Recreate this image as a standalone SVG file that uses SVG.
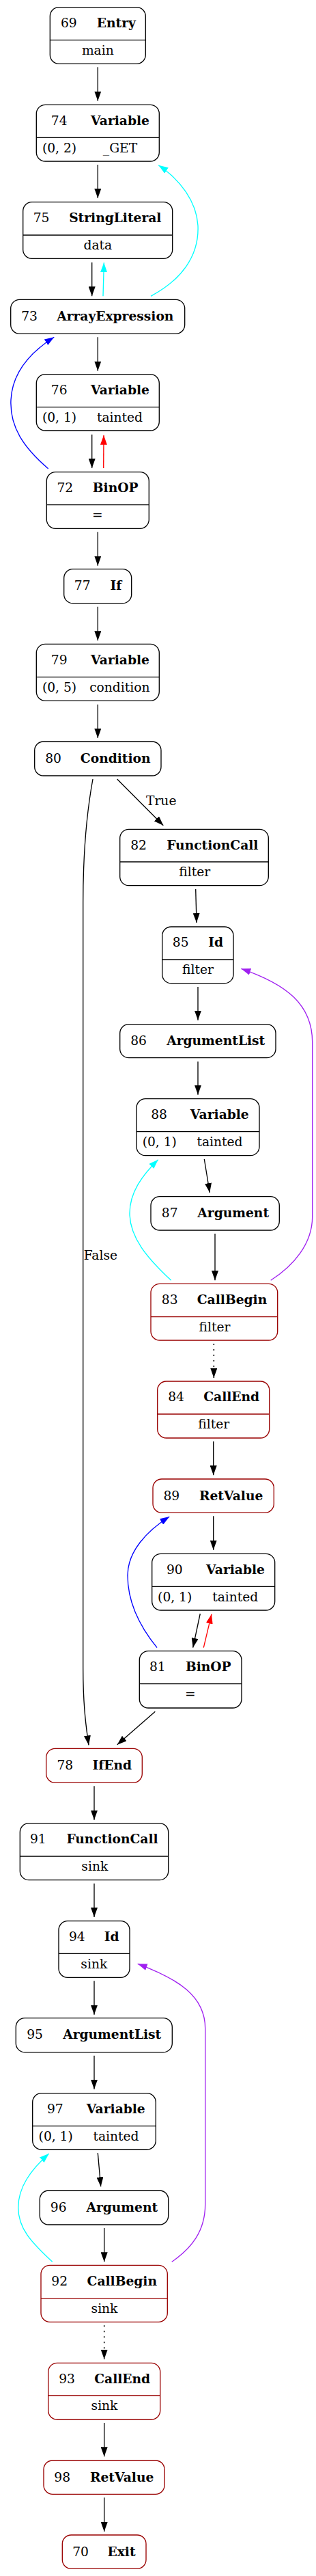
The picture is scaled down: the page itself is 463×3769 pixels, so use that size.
<svg xmlns="http://www.w3.org/2000/svg" width="463" height="3769" viewBox="0 0 463 3769">
<style>
.n rect{fill:#fff;stroke:#000;stroke-width:1.33}
.n line{stroke:#000;stroke-width:1.33}
.r rect,.r line{stroke:#990000}
text{font-family:"DejaVu Serif","Liberation Serif",serif;font-size:18.67px;fill:#000;text-anchor:middle}
.b{font-weight:bold}
.lbl{text-anchor:start}
#edges path{fill:none;stroke-width:1.33}
.k{stroke:#000}
.c{stroke:#00ffff}
.rd{stroke:#ff0000}
.bl{stroke:#0000ff}
.p{stroke:#a020f0}
#edges path.d{stroke-dasharray:2,6;stroke-width:1.6}
</style>
<defs>
<marker id="ak" viewBox="0 0 14 10" refX="14" refY="5" markerWidth="14" markerHeight="10" markerUnits="userSpaceOnUse" orient="auto"><path d="M0,0L14,5L0,10z" fill="#000"/></marker>
<marker id="ac" viewBox="0 0 14 10" refX="14" refY="5" markerWidth="14" markerHeight="10" markerUnits="userSpaceOnUse" orient="auto"><path d="M0,0L14,5L0,10z" fill="#00ffff"/></marker>
<marker id="ar" viewBox="0 0 14 10" refX="14" refY="5" markerWidth="14" markerHeight="10" markerUnits="userSpaceOnUse" orient="auto"><path d="M0,0L14,5L0,10z" fill="#ff0000"/></marker>
<marker id="ab" viewBox="0 0 14 10" refX="14" refY="5" markerWidth="14" markerHeight="10" markerUnits="userSpaceOnUse" orient="auto"><path d="M0,0L14,5L0,10z" fill="#0000ff"/></marker>
<marker id="ap" viewBox="0 0 14 10" refX="14" refY="5" markerWidth="14" markerHeight="10" markerUnits="userSpaceOnUse" orient="auto"><path d="M0,0L14,5L0,10z" fill="#a020f0"/></marker>
</defs>
<rect width="463" height="3769" fill="#fff"/>

<g id="edges">
<path class="k" marker-end="url(#ak)" d="M143.3,98.3L143.3,147.7"/>
<path class="k" marker-end="url(#ak)" d="M143.3,241L143.3,290"/>
<path class="k" marker-end="url(#ak)" d="M134.7,384L134.7,433.3"/>
<path class="c" marker-end="url(#ac)" d="M151,433.3C151.5,415 152,400 152.3,384.3"/>
<path class="c" marker-end="url(#ac)" d="M221,433.3C265,410 292,375 290,330C288,295 264,263 232.3,241.7"/>
<path class="k" marker-end="url(#ak)" d="M143.3,493.3L143.3,542.7"/>
<path class="k" marker-end="url(#ak)" d="M134.7,635.7L134.7,685"/>
<path class="rd" marker-end="url(#ar)" d="M151.7,685L152,636.7"/>
<path class="bl" marker-end="url(#ab)" d="M70.7,685.7C35,655 14,625 16,585C18,545 45,515 79.3,493.3"/>
<path class="k" marker-end="url(#ak)" d="M143.3,778.3L143.3,827.7"/>
<path class="k" marker-end="url(#ak)" d="M143.3,887.7L143.3,937.3"/>
<path class="k" marker-end="url(#ak)" d="M143.3,1030.7L143.3,1080"/>
<path class="k" marker-end="url(#ak)" d="M171.7,1140L239.3,1207.7"/>
<text class="lbl" x="214" y="1178.3">True</text>
<path class="k" marker-end="url(#ak)" d="M136,1140C125,1200 121.7,1260 121.7,1320L121.7,2440C121.7,2490 125,2520 130,2553.3"/>
<text class="lbl" x="122.7" y="1843.3">False</text>
<path class="k" marker-end="url(#ak)" d="M286.7,1301L288,1350"/>
<path class="k" marker-end="url(#ak)" d="M290,1444L290,1492.7"/>
<path class="k" marker-end="url(#ak)" d="M290,1553.3L290,1601.7"/>
<path class="k" marker-end="url(#ak)" d="M299.3,1696L307.3,1745"/>
<path class="k" marker-end="url(#ak)" d="M315,1805L315,1873.3"/>
<path class="c" marker-end="url(#ac)" d="M250.7,1873.3C215,1840 190,1810 190,1775C190,1745 208,1720 231.7,1696.7"/>
<path class="p" marker-end="url(#ap)" d="M396.7,1873.3C430,1852 457.7,1820 457.7,1780L457.7,1525C457.7,1470 420,1440 353.3,1417.3"/>
<path class="k d" marker-end="url(#ak)" d="M313.3,1966L313.3,2016"/>
<path class="k" marker-end="url(#ak)" d="M312.7,2109L312.7,2158.3"/>
<path class="k" marker-end="url(#ak)" d="M312.7,2218.3L312.7,2267.7"/>
<path class="k" marker-end="url(#ak)" d="M293.3,2361L282.7,2410.7"/>
<path class="rd" marker-end="url(#ar)" d="M298.3,2410.7L310,2361.7"/>
<path class="bl" marker-end="url(#ab)" d="M230,2410.7C205,2380 187,2345 187,2305C187,2270 215,2240 248.3,2219"/>
<path class="k" marker-end="url(#ak)" d="M227.3,2504.3L171.7,2552.7"/>
<path class="k" marker-end="url(#ak)" d="M138,2613.3L138,2662.7"/>
<path class="k" marker-end="url(#ak)" d="M138,2755.7L138,2805"/>
<path class="k" marker-end="url(#ak)" d="M138,2898.3L138,2947.7"/>
<path class="k" marker-end="url(#ak)" d="M138,3007.7L138,3056.7"/>
<path class="k" marker-end="url(#ak)" d="M143.3,3150L147.7,3199.3"/>
<path class="k" marker-end="url(#ak)" d="M152.7,3260L152.7,3309.3"/>
<path class="c" marker-end="url(#ac)" d="M76.7,3309.3C45,3280 26.7,3260 26.7,3230C26.7,3200 45,3175 71.7,3151"/>
<path class="p" marker-end="url(#ap)" d="M251.7,3309.3C280,3290 300.7,3265 300.7,3225L300.7,2968C300.7,2920 260,2895 201.7,2873.3"/>
<path class="k d" marker-end="url(#ak)" d="M152.7,3402.3L152.7,3451.7"/>
<path class="k" marker-end="url(#ak)" d="M152.7,3545L152.7,3594.3"/>
<path class="k" marker-end="url(#ak)" d="M152.7,3654.3L152.7,3704"/>
</g>

<g id="n69" class="n"><rect x="73.3" y="10.7" width="140" height="82.6" rx="13"/><line x1="73.3" y1="58.7" x2="213.3" y2="58.7"/><text x="100.8" y="40">69</text><text class="b" x="170.3" y="40">Entry</text><text x="143.3" y="80">main</text></g>
<g id="n74" class="n"><rect x="53.3" y="153.3" width="180" height="82.7" rx="13"/><line x1="53.3" y1="201.3" x2="233.3" y2="201.3"/><text x="86.7" y="182.6">74</text><text class="b" x="176" y="182.6">Variable</text><text x="87" y="222.6">(0, 2)</text><text x="176" y="222.6">_GET</text></g>
<g id="n75" class="n"><rect x="33.7" y="295.7" width="219" height="82.6" rx="13"/><line x1="33.7" y1="344" x2="252.7" y2="344"/><text x="60.5" y="325">75</text><text class="b" x="168.8" y="325">StringLiteral</text><text x="143.3" y="365.3">data</text></g>
<g id="n73" class="n"><rect x="15.7" y="438.3" width="255" height="50" rx="13"/><text x="43" y="469">73</text><text class="b" x="168.8" y="469">ArrayExpression</text></g>
<g id="n76" class="n"><rect x="53.3" y="547.7" width="180" height="82.3" rx="13"/><line x1="53.3" y1="595.7" x2="233.3" y2="595.7"/><text x="86.7" y="577">76</text><text class="b" x="176" y="577">Variable</text><text x="87" y="617">(0, 1)</text><text x="175.5" y="617">tainted</text></g>
<g id="n72" class="n"><rect x="68.3" y="690.7" width="150" height="82.6" rx="13"/><line x1="68.3" y1="738.7" x2="218.3" y2="738.7"/><text x="95.3" y="720">72</text><text class="b" x="169.2" y="720">BinOP</text><text x="142.7" y="760">=</text></g>
<g id="n77" class="n"><rect x="93.7" y="832.7" width="99" height="50" rx="13"/><text x="120.7" y="863.4">77</text><text class="b" x="170" y="863.4">If</text></g>
<g id="n79" class="n"><rect x="53.3" y="942.3" width="180" height="83" rx="13"/><line x1="53.3" y1="990.7" x2="233.3" y2="990.7"/><text x="86.7" y="971.6">79</text><text class="b" x="176" y="971.6">Variable</text><text x="87" y="1012">(0, 5)</text><text x="175.3" y="1012">condition</text></g>
<g id="n80" class="n"><rect x="50.7" y="1085" width="185.3" height="50" rx="13"/><text x="78" y="1115.7">80</text><text class="b" x="169.2" y="1115.7">Condition</text></g>
<g id="n82" class="n"><rect x="175.7" y="1213.3" width="217.6" height="82.4" rx="13"/><line x1="175.7" y1="1261" x2="393.3" y2="1261"/><text x="203" y="1242.6">82</text><text class="b" x="311.3" y="1242.6">FunctionCall</text><text x="285.3" y="1282.3">filter</text></g>
<g id="n85" class="n"><rect x="237.7" y="1356" width="104.3" height="82.7" rx="13"/><line x1="237.7" y1="1404" x2="342" y2="1404"/><text x="264.7" y="1385.3">85</text><text class="b" x="316.2" y="1385.3">Id</text><text x="290" y="1425.3">filter</text></g>
<g id="n86" class="n"><rect x="175.7" y="1498.7" width="228.3" height="49" rx="13"/><text x="203" y="1529.4">86</text><text class="b" x="316.2" y="1529.4">ArgumentList</text></g>
<g id="n88" class="n"><rect x="200" y="1607.7" width="180" height="83" rx="13"/><line x1="200" y1="1655.7" x2="380" y2="1655.7"/><text x="233" y="1637">88</text><text class="b" x="321.8" y="1637">Variable</text><text x="233.8" y="1677">(0, 1)</text><text x="322" y="1677">tainted</text></g>
<g id="n87" class="n"><rect x="221" y="1750.7" width="188.3" height="49.3" rx="13"/><text x="248.7" y="1781.4">87</text><text class="b" x="341.7" y="1781.4">Argument</text></g>
<g id="n83" class="n r"><rect x="221" y="1878.3" width="185.7" height="82.7" rx="13"/><line x1="221" y1="1926.7" x2="406.7" y2="1926.7"/><text x="248.7" y="1907.6">83</text><text class="b" x="340" y="1907.6">CallBegin</text><text x="314.5" y="1948">filter</text></g>
<g id="n84" class="n r"><rect x="230.7" y="2021" width="164" height="83" rx="13"/><line x1="230.7" y1="2069" x2="394.7" y2="2069"/><text x="258" y="2050.3">84</text><text class="b" x="339.2" y="2050.3">CallEnd</text><text x="313.3" y="2090.3">filter</text></g>
<g id="n89" class="n r"><rect x="224" y="2164" width="177.3" height="49.3" rx="13"/><text x="251.3" y="2194.7">89</text><text class="b" x="338.7" y="2194.7">RetValue</text></g>
<g id="n90" class="n"><rect x="222.7" y="2273.3" width="180" height="82.7" rx="13"/><line x1="222.7" y1="2321.3" x2="402.7" y2="2321.3"/><text x="255.8" y="2302.6">90</text><text class="b" x="345" y="2302.6">Variable</text><text x="256.2" y="2342.6">(0, 1)</text><text x="344.7" y="2342.6">tainted</text></g>
<g id="n81" class="n"><rect x="204.3" y="2415.7" width="149.7" height="83.3" rx="13"/><line x1="204.3" y1="2463.7" x2="354" y2="2463.7"/><text x="230.8" y="2445">81</text><text class="b" x="305.3" y="2445">BinOP</text><text x="278.7" y="2485">=</text></g>
<g id="n78" class="n r"><rect x="67.7" y="2558.3" width="140.6" height="50" rx="13"/><text x="95.3" y="2589">78</text><text class="b" x="164.3" y="2589">IfEnd</text></g>
<g id="n91" class="n"><rect x="29.3" y="2667.7" width="217.4" height="83" rx="13"/><line x1="29.3" y1="2716" x2="246.7" y2="2716"/><text x="55.8" y="2697">91</text><text class="b" x="164.5" y="2697">FunctionCall</text><text x="138.8" y="2737.3">sink</text></g>
<g id="n94" class="n"><rect x="86" y="2810.7" width="104" height="82.6" rx="13"/><line x1="86" y1="2858.3" x2="190" y2="2858.3"/><text x="112.8" y="2840">94</text><text class="b" x="163.7" y="2840">Id</text><text x="137.8" y="2879.6">sink</text></g>
<g id="n95" class="n"><rect x="23.3" y="2952.7" width="229" height="50" rx="13"/><text x="51" y="2983.4">95</text><text class="b" x="164.2" y="2983.4">ArgumentList</text></g>
<g id="n97" class="n"><rect x="47.7" y="3062.7" width="180.6" height="82.3" rx="13"/><line x1="47.7" y1="3110.7" x2="228.3" y2="3110.7"/><text x="80.8" y="3092">97</text><text class="b" x="169.8" y="3092">Variable</text><text x="81.7" y="3132">(0, 1)</text><text x="170" y="3132">tainted</text></g>
<g id="n96" class="n"><rect x="58.3" y="3205" width="188.4" height="50" rx="13"/><text x="85.7" y="3235.7">96</text><text class="b" x="178.8" y="3235.7">Argument</text></g>
<g id="n92" class="n r"><rect x="60" y="3314.3" width="185.3" height="83" rx="13"/><line x1="60" y1="3362.7" x2="245.3" y2="3362.7"/><text x="87.2" y="3343.6">92</text><text class="b" x="178.8" y="3343.6">CallBegin</text><text x="153" y="3384">sink</text></g>
<g id="n93" class="n r"><rect x="70.7" y="3457.3" width="164" height="82.7" rx="13"/><line x1="70.7" y1="3505" x2="234.7" y2="3505"/><text x="98" y="3486.6">93</text><text class="b" x="179.2" y="3486.6">CallEnd</text><text x="153" y="3526.3">sink</text></g>
<g id="n98" class="n r"><rect x="64" y="3600" width="177" height="49.3" rx="13"/><text x="91.2" y="3630.7">98</text><text class="b" x="178.7" y="3630.7">RetValue</text></g>
<g id="n70" class="n r"><rect x="91.3" y="3709" width="122.7" height="49.3" rx="13"/><text x="118" y="3739.7">70</text><text class="b" x="178" y="3739.7">Exit</text></g>
</svg>
